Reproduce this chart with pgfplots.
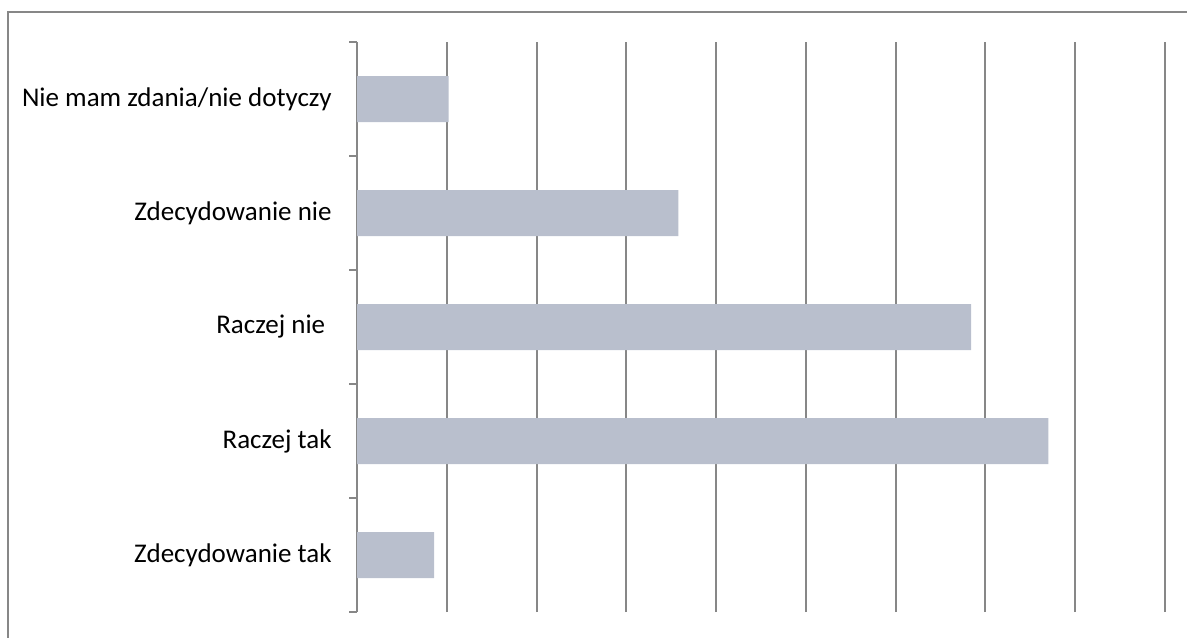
\documentclass[border=0pt]{standalone}
\usepackage{pgfplots}
\pgfplotsset{compat=1.18}
\usepackage{fontspec}
\setmainfont{Carlito}
\definecolor{barcol}{HTML}{B9BFCD}
\definecolor{gridcol}{HTML}{878787}
\begin{document}
\begin{tikzpicture}
\path[use as bounding box] (0,0) rectangle (593.5pt,318.5pt);
\draw[gridcol, line width=0.6pt] (4pt,-5pt) -- (4pt,312.5pt) -- (600pt,312.5pt);
\begin{axis}[
 at={(178.5pt,12.5pt)}, anchor=south west,
 scale only axis, width=404pt, height=285pt,
 xbar, bar width=23pt,
 xmin=0, xmax=45, ymin=-0.5, ymax=4.5,
 axis x line*=bottom, axis y line*=left,
 x axis line style={draw=none},
 y axis line style={gridcol, line width=1pt},
 xtick={5,10,...,45}, xticklabels={},
 xmajorgrids, grid style={gridcol, line width=1pt},
 ytick={0,1,2,3,4},
 yticklabels={Zdecydowanie tak, Raczej tak, Raczej nie\hspace*{3.2pt}, Zdecydowanie nie, Nie mam zdania/nie dotyczy},
 minor ytick={-0.5,0.5,1.5,2.5,3.5,4.5},
 tick align=outside, major tick length=0pt, minor tick length=4pt,
 minor tick style={gridcol, line width=1pt},
 major tick style={draw=none},
 yticklabel style={font=\fontsize{13.5pt}{16pt}\selectfont, anchor=east, inner sep=0pt, xshift=-12.5pt},
]
\addplot[fill=barcol, draw=none] coordinates {(4.3,0) (38.5,1) (34.2,2) (17.9,3) (5.1,4)};
\end{axis}
\end{tikzpicture}
\end{document}
